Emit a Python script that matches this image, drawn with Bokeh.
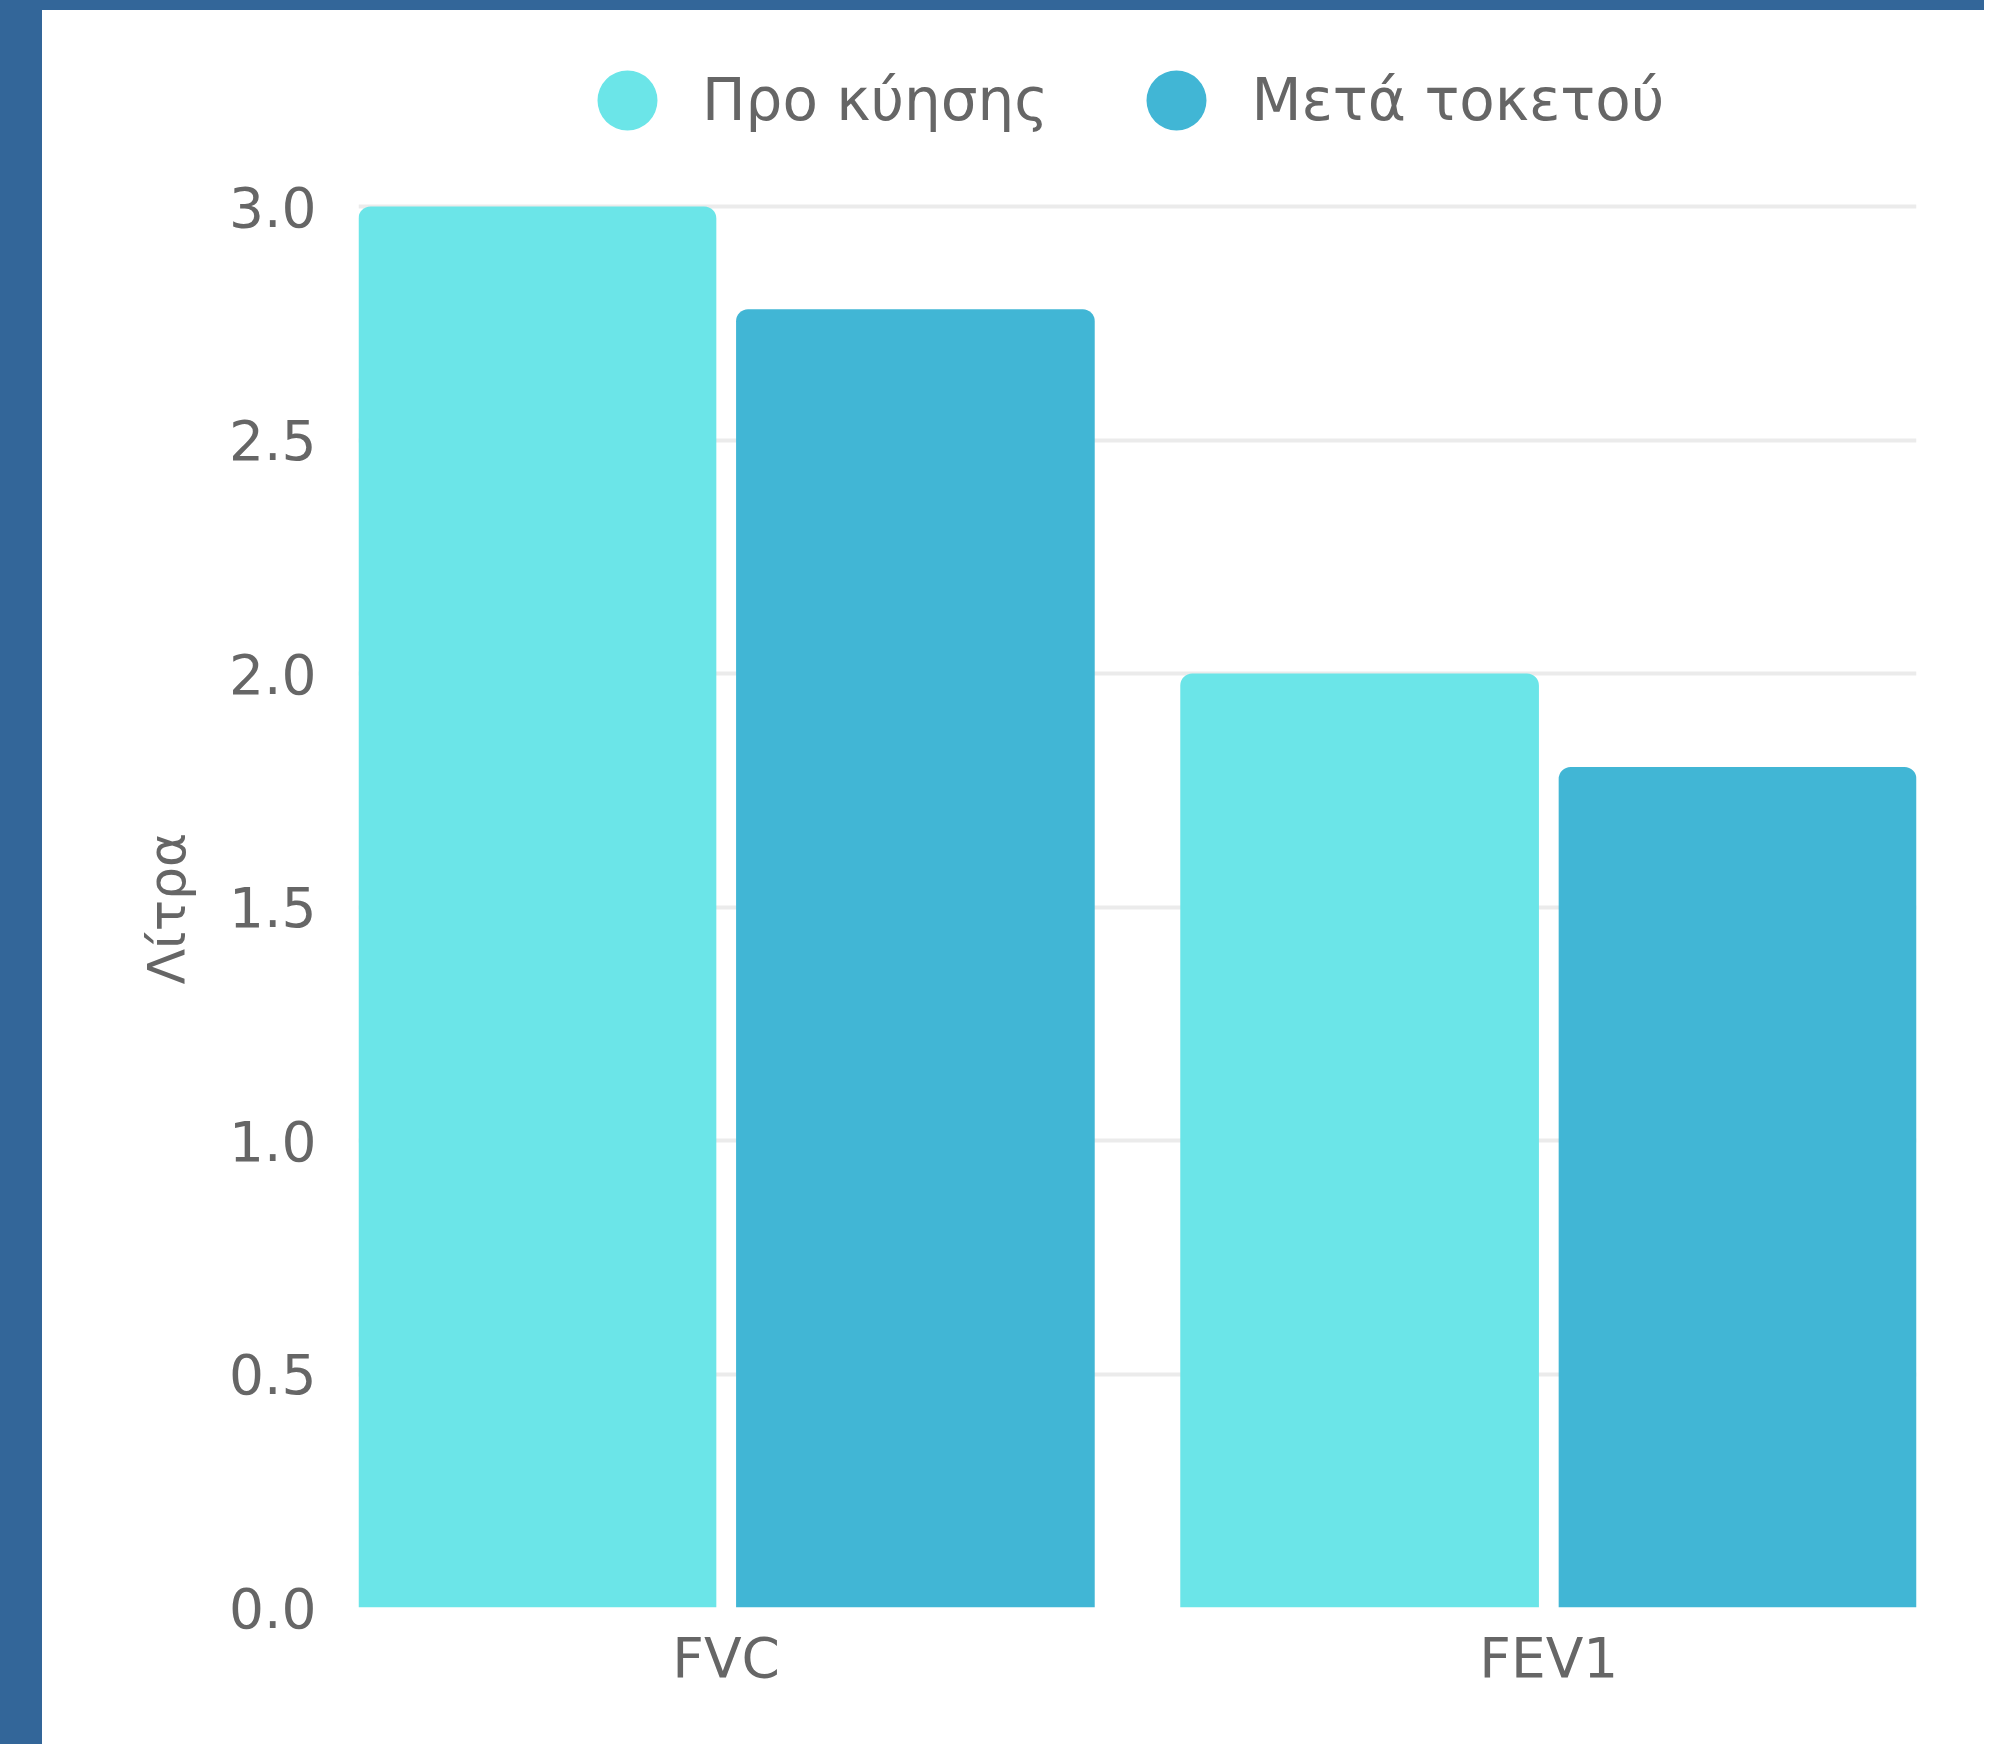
from bokeh.plotting import figure
from bokeh.models import (ColumnDataSource, Range1d, FixedTicker, NumeralTickFormatter,
                          Legend, LegendItem, Spacer, Title)
from bokeh.layouts import column, row
from bokeh.transform import dodge
from bokeh.embed import file_html
from bokeh.resources import INLINE

# ---- data ----
categories = ["FVC", "FEV1"]
series_names = ["Προ κύησης", "Μετά τοκετού"]
pre_pregnancy = [3.0, 2.0]
postpartum = [2.78, 1.80]
y_ticks = [0.0, 0.5, 1.0, 1.5, 2.0, 2.5, 3.0]
y_title = "Λίτρα"

# ---- style ----
colors = ["#6BE5E8", "#41B6D5"]
frame_blue = "#336699"
text_color = "#666666"
FONT = "DejaVu Sans"

xpos = list(range(len(categories)))
source = ColumnDataSource(dict(x=xpos, cat=categories, pre=pre_pregnancy, post=postpartum))

W, H = 1942, 1734
PLOT_H = 1597          # frame height in px (top of figure down to the 0 line)
Y_TOP_PX = 196         # px between frame top and the 3.0 line (room for the legend)
y_end = max(y_ticks) + Y_TOP_PX * max(y_ticks) / (PLOT_H - Y_TOP_PX)

p = figure(width=W, height=H, output_backend="svg", toolbar_location=None,
           x_range=Range1d(-0.447, 1.447), y_range=Range1d(0, y_end),
           min_border_left=316, min_border_right=68, min_border_top=0,
           min_border_bottom=137)
p.outline_line_color = None
p.background_fill_color = "white"
p.border_fill_color = "white"

p.vbar(x=dodge("x", -0.23, range=p.x_range), top="pre", width=0.436, source=source,
       fill_color=colors[0], line_color=None, border_radius=(12, 12, 0, 0))
p.vbar(x=dodge("x", 0.23, range=p.x_range), top="post", width=0.436, source=source,
       fill_color=colors[1], line_color=None, border_radius=(12, 12, 0, 0))

# hidden proxies so the legend shows circles
r1 = p.scatter(x="x", y="pre", source=source, marker="circle",
               fill_color=colors[0], line_color=None, visible=False)
r2 = p.scatter(x="x", y="post", source=source, marker="circle",
               fill_color=colors[1], line_color=None, visible=False)
legend = Legend(items=[LegendItem(label=series_names[0], renderers=[r1]),
                       LegendItem(label=series_names[1], renderers=[r2])],
                orientation="horizontal", location=(194, PLOT_H - 165),
                glyph_width=150, glyph_height=150, padding=0, margin=0,
                spacing=53, label_standoff=0,
                label_text_font=FONT, label_text_font_size="58px",
                label_text_color=text_color, border_line_color=None,
                background_fill_alpha=0, inactive_fill_alpha=0)
p.add_layout(legend)

# grid
p.xgrid.visible = False
p.ygrid.grid_line_color = "#EBEBEB"
p.ygrid.grid_line_width = 4

# y axis
p.yaxis.ticker = FixedTicker(ticks=y_ticks)
p.yaxis.formatter = NumeralTickFormatter(format="0.0")
p.yaxis.axis_line_color = None
p.yaxis.major_tick_line_color = None
p.yaxis.minor_tick_line_color = None
p.yaxis.major_tick_out = 0
p.yaxis.major_label_standoff = 42
p.yaxis.major_label_text_font = FONT
p.yaxis.major_label_text_font_size = "55px"
p.yaxis.major_label_text_color = text_color

# y axis title, centred on the 0..3 part of the frame
ytitle = Title(text=y_title, align="left", offset=PLOT_H - 984 + 10,
               text_font=FONT, text_font_size="52px", text_font_style="normal",
               text_color=text_color, standoff=59)
p.add_layout(ytitle, "left")

# x axis
p.xaxis.ticker = FixedTicker(ticks=xpos)
p.xaxis.major_label_overrides = {i: c for i, c in zip(xpos, categories)}
p.xaxis.axis_line_color = None
p.xaxis.major_tick_line_color = None
p.xaxis.minor_tick_line_color = None
p.xaxis.major_tick_out = 0
p.xaxis.major_label_standoff = 18
p.xaxis.major_label_text_font = FONT
p.xaxis.major_label_text_font_size = "55px"
p.xaxis.major_label_text_color = text_color

top_bar = Spacer(width=W + 42, height=10, styles={"background-color": frame_blue})
left_bar = Spacer(width=42, height=H, styles={"background-color": frame_blue})
layout = column(top_bar, row(left_bar, p))

open("out.html", "w").write(file_html(layout, INLINE))
